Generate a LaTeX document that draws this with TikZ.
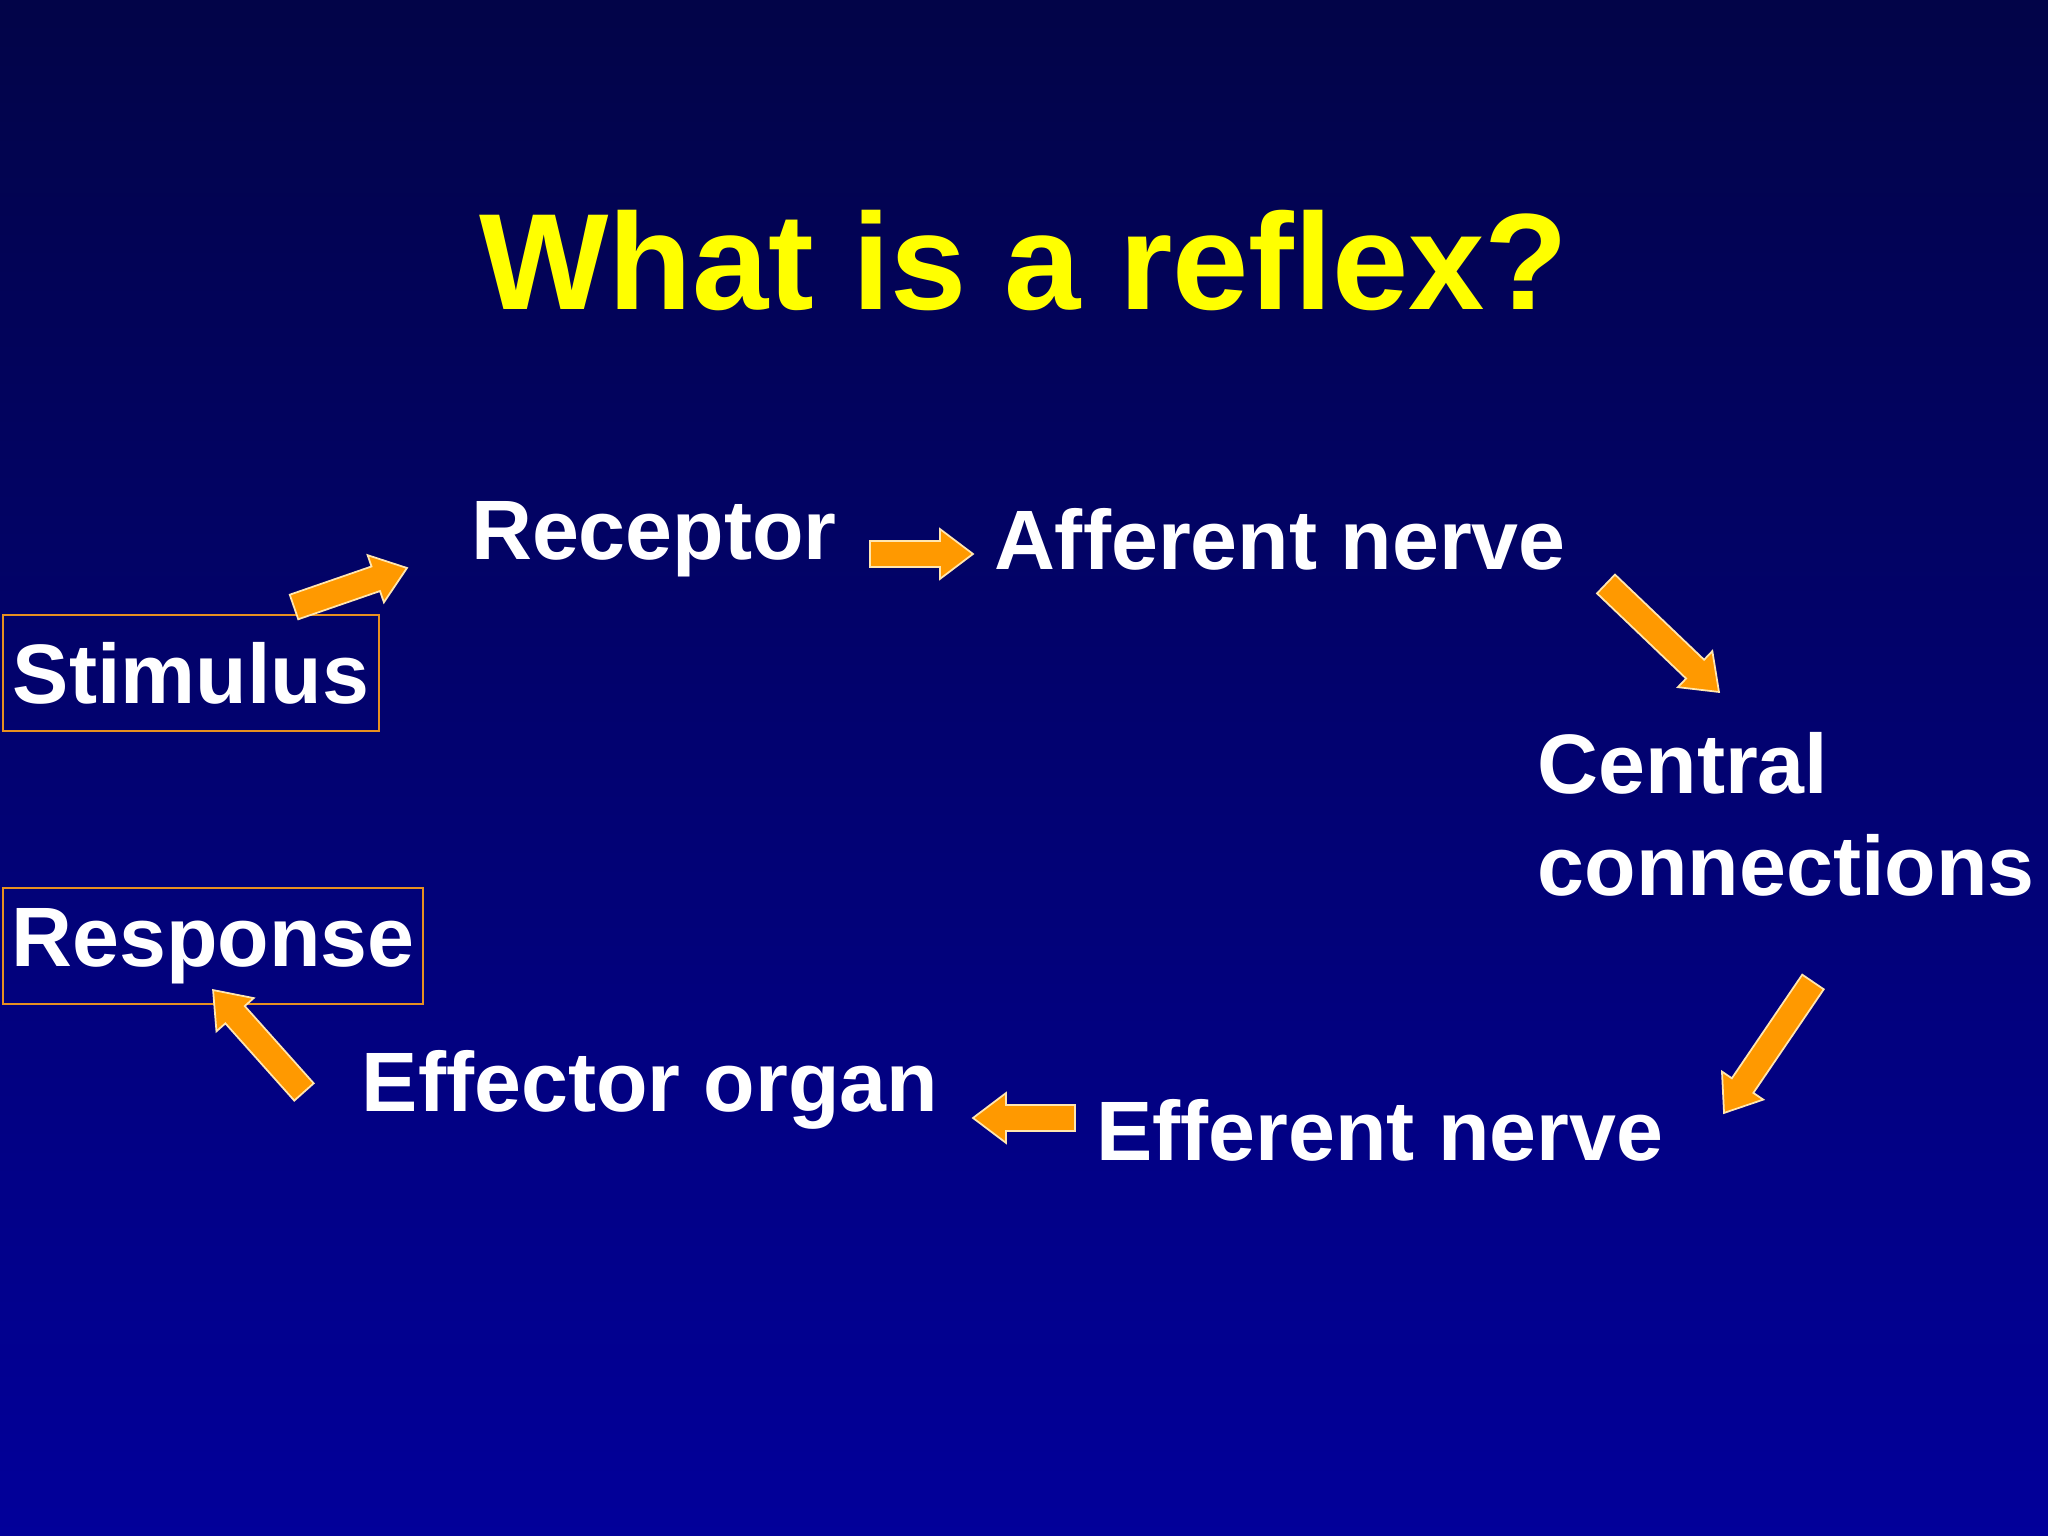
\documentclass[tikz,border=0pt]{standalone}
\usepackage{fontspec}
\setmainfont{Liberation Sans}
\usetikzlibrary{calc}
\definecolor{bgtop}{HTML}{020448}
\definecolor{bgbot}{HTML}{02009A}
\definecolor{arrfill}{HTML}{FF9900}
\definecolor{arrline}{HTML}{FFE6B0}
\definecolor{boxline}{HTML}{E89020}
\tikzset{
  lbl/.style={text=white,font=\fontsize{24}{29}\selectfont\bfseries,inner sep=0pt},
  boxed/.style={draw=boxline,line width=0.8pt,text=white,font=\fontsize{24}{29}\selectfont\bfseries,inner sep=0pt,anchor=south west},
  fat/.style={fill=arrfill,draw=arrline,line width=0.5pt,line join=miter}
}
\newcommand\fatarrow[2]{%
  \path[fat] let \p1=($(#2)-(#1)$), \n1={atan2(\y1,\x1)}, \n2={veclen(\x1,\y1)} in
    [shift={(#1)}, rotate=\n1]
    (0pt,-3.7pt) -- ({\n2-9.4pt},-3.7pt) -- ({\n2-9.4pt},-7.1pt) -- (\n2,0pt)
    -- ({\n2-9.4pt},7.1pt) -- ({\n2-9.4pt},3.7pt) -- (0pt,3.7pt) -- cycle;}
\begin{document}
\begin{tikzpicture}
\shade[top color=bgtop,bottom color=bgbot] (0,0) rectangle (20.48,15.36);
\useasboundingbox (0,0) rectangle (20.48,15.36);
\node[text={rgb,255:red,255;green,255;blue,0},font=\fontsize{39}{46}\selectfont\bfseries] (title) at (10.24,12.75) {What is a reflex?};
\node[lbl] (rec) at (6.54,9.97) {Receptor};
\node[lbl] (aff) at (12.80,9.97) {Afferent nerve};
\node[lbl,anchor=west,align=left] (cen) at (15.37,7.22) {Central\\connections};
\node[lbl] (eff) at (13.80,4.06) {Efferent nerve};
\node[lbl] (eor) at (6.50,4.46) {Effector organ};
\path[boxed] (0.03,8.05) rectangle (3.79,9.21);
\node[lbl] (stim) at (1.91,8.63) {Stimulus};
\path[boxed] (0.03,5.32) rectangle (4.23,6.48);
\node[lbl] (resp) at (2.13,5.90) {Response};
\coordinate (a1s) at (2.94,9.29); \coordinate (a1e) at (4.07,9.68);
\coordinate (a2s) at (8.70,9.82); \coordinate (a2e) at (9.73,9.82);
\coordinate (a3s) at (16.06,9.52); \coordinate (a3e) at (17.19,8.44);
\coordinate (a4s) at (18.13,5.54); \coordinate (a4e) at (17.24,4.23);
\coordinate (a5s) at (10.75,4.18); \coordinate (a5e) at (9.73,4.18);
\coordinate (a6s) at (3.04,4.44); \coordinate (a6e) at (2.13,5.46);
\fatarrow{a1s}{a1e}
\fatarrow{a2s}{a2e}
\fatarrow{a3s}{a3e}
\fatarrow{a4s}{a4e}
\fatarrow{a5s}{a5e}
\fatarrow{a6s}{a6e}
\end{tikzpicture}
\end{document}
